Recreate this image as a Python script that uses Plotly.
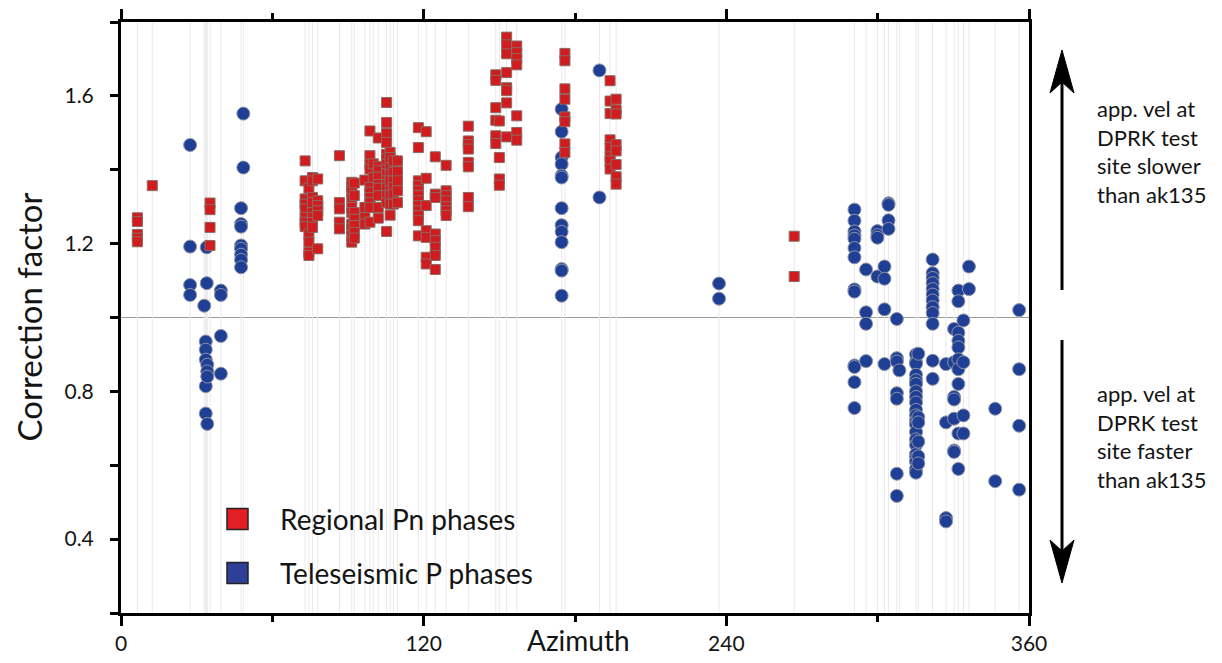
import plotly.graph_objects as go

# ---------------- data ----------------
# Regional Pn phases: azimuth -> correction factors
pn_az = [6.5, 12.4, 35.3, 73.0, 74.5, 75.9, 78.0, 86.6, 91.5, 92.5, 96.7, 98.7, 100.0,
         102.0, 105.3, 106.7, 108.0, 109.6, 117.9, 121.0, 124.6, 128.9, 137.7, 148.6,
         150.0, 152.9, 156.9, 176.0, 193.9, 196.3, 266.9]
pn_vals = [
    [1.27, 1.26, 1.225, 1.215, 1.205],
    [1.357],
    [1.31, 1.292, 1.244, 1.195],
    [1.424, 1.370, 1.321, 1.307, 1.294, 1.271, 1.258, 1.246],
    [1.350, 1.226, 1.204, 1.177, 1.168],
    [1.379, 1.370, 1.325, 1.311, 1.284, 1.271, 1.257, 1.244],
    [1.375, 1.316, 1.303, 1.289, 1.276, 1.186],
    [1.438, 1.311, 1.294, 1.258, 1.240],
    [1.366, 1.356, 1.343, 1.321, 1.298, 1.284, 1.253, 1.240, 1.222, 1.204],
    [1.364, 1.330, 1.284, 1.266, 1.249, 1.230, 1.215],
    [1.372, 1.298, 1.271, 1.253],
    [1.505, 1.438, 1.415, 1.402, 1.352, 1.339, 1.325, 1.311, 1.298, 1.258],
    [1.416, 1.379],
    [1.486, 1.409, 1.397, 1.38, 1.36, 1.35, 1.33, 1.298, 1.269],
    [1.582, 1.528, 1.498, 1.474, 1.442, 1.43, 1.415, 1.40, 1.39, 1.37, 1.36, 1.35, 1.33, 1.311, 1.233],
    [1.447, 1.433, 1.406, 1.388, 1.37, 1.343, 1.33, 1.307, 1.277],
    [1.424, 1.393, 1.37, 1.352, 1.334, 1.307],
    [1.424, 1.395, 1.37, 1.343, 1.311],
    [1.514, 1.46, 1.37, 1.357, 1.343, 1.33, 1.316, 1.303, 1.289, 1.276, 1.262, 1.221],
    [1.503, 1.377, 1.303, 1.235, 1.217, 1.163, 1.145],
    [1.435, 1.334, 1.325, 1.226, 1.208, 1.19, 1.168, 1.13],
    [1.412, 1.343, 1.33, 1.316, 1.30, 1.289, 1.276],
    [1.518, 1.478, 1.468, 1.456, 1.42, 1.408, 1.325, 1.30],
    [1.657, 1.642, 1.568, 1.534, 1.492, 1.471],
    [1.532, 1.433, 1.375, 1.358],
    [1.759, 1.738, 1.714, 1.663, 1.622, 1.614, 1.581, 1.489],
    [1.735, 1.717, 1.701, 1.684, 1.546, 1.501, 1.48],
    [1.715, 1.695, 1.619, 1.591, 1.543, 1.530, 1.47, 1.447],
    [1.641, 1.586, 1.552, 1.481, 1.46, 1.435, 1.424, 1.402],
    [1.591, 1.562, 1.551, 1.468, 1.451, 1.414, 1.381, 1.361],
    [1.22, 1.111],
]

# Teleseismic P phases: azimuth -> correction factors
tp_az = [27.4, 33.0, 33.6, 34.0, 34.2, 39.6, 47.6, 48.5, 174.7, 189.7, 237.1, 290.8,
         295.4, 299.9, 302.7, 304.3, 307.6, 308.6, 315.2, 316.1, 321.8, 327.1, 330.3,
         332.0, 334.0, 336.2, 346.6, 356.1]
tp_vals = [
    [1.467, 1.192, 1.088, 1.061],
    [1.032],
    [0.935, 0.913, 0.886, 0.814, 0.74],
    [1.19, 1.093],
    [0.872, 0.854, 0.840, 0.712],
    [1.073, 1.061, 0.95, 0.848],
    [1.296, 1.253, 1.246, 1.195, 1.186, 1.170, 1.156, 1.136],
    [1.552, 1.406],
    [1.564, 1.503, 1.433, 1.415, 1.384, 1.379, 1.296, 1.25, 1.232, 1.204, 1.131, 1.127, 1.059],
    [1.669, 1.325],
    [1.092, 1.051],
    [1.292, 1.262, 1.233, 1.222, 1.213, 1.188, 1.163, 1.076, 1.070, 0.87, 0.866, 0.825, 0.755],
    [1.13, 1.014, 0.983, 0.882],
    [1.234, 1.223, 1.216, 1.111],
    [1.138, 1.105, 1.022, 0.874],
    [1.309, 1.305, 1.263, 1.24],
    [0.996, 0.89, 0.881, 0.795, 0.78, 0.577, 0.517],
    [0.857],
    [0.90, 0.88, 0.875, 0.845, 0.83, 0.82, 0.80, 0.785, 0.77, 0.75, 0.735, 0.72, 0.71,
     0.69, 0.67, 0.655, 0.63, 0.62, 0.61, 0.59, 0.58],
    [0.902, 0.73, 0.716, 0.664, 0.624, 0.605],
    [1.157, 1.12, 1.107, 1.093, 1.077, 1.062, 1.046, 1.028, 1.012, 0.983, 0.883, 0.834],
    [0.874, 0.716, 0.457, 0.448],
    [0.969, 0.879, 0.785, 0.778, 0.726, 0.64, 0.636],
    [1.073, 1.044, 0.959, 0.937, 0.919, 0.887, 0.86, 0.82, 0.686, 0.59],
    [0.992, 0.879, 0.735, 0.686],
    [1.138, 1.077],
    [0.753, 0.557],
    [1.02, 0.86, 0.707, 0.534],
]

x_tickvals = [0, 120, 240, 360]
y_tickvals = [0.2, 0.4, 0.6, 0.8, 1.0, 1.2, 1.4, 1.6, 1.8]
y_ticktext = ["", "0.4", "", "0.8", "", "1.2", "", "1.6", ""]
legend_labels = ["Regional Pn phases", "Teleseismic P phases"]
right_text_up = ["app. vel at", "DPRK test", "site slower", "than ak135"]
right_text_down = ["app. vel at", "DPRK test", "site faster", "than ak135"]
reference_level = 1.0
y_range = [0.2, 1.8]
x_range = [0, 360]

# ---------------- build ----------------
def flatten(az, vals):
    xs, ys = [], []
    for a, vs in zip(az, vals):
        for v in vs:
            xs.append(a)
            ys.append(v)
    return xs, ys

pn_x, pn_y = flatten(pn_az, pn_vals)
tp_x, tp_y = flatten(tp_az, tp_vals)

FONT = "Lato"
TXT = "#141414"
RED = "#d01c1f"
BLUE = "#1f3f94"

# plot-area geometry (page pixels); page body has an 8px margin
OFF = 8
PL, PR, PT, PB = 121, 1029, 22, 613
W, H = 1222 - OFF, 663 - OFF


def px(xp):
    return (xp - PL) / (PR - PL)


def py(yp):
    return (PB - yp) / (PB - PT)


fig = go.Figure()

# station azimuth guide lines
gx, gy = [], []
for a in sorted(set(pn_az + tp_az)):
    gx += [a, a, None]
    gy += [y_range[0], y_range[1], None]
fig.add_trace(go.Scatter(x=gx, y=gy, mode="lines", line=dict(color="#e9e9e9", width=1),
                         hoverinfo="skip", showlegend=False))

fig.add_hline(y=reference_level, line=dict(color="#9a9a9a", width=1), layer="below")

fig.add_trace(go.Scatter(x=tp_x, y=tp_y, mode="markers", name=legend_labels[1],
                         marker=dict(symbol="circle", size=13, color=BLUE,
                                     line=dict(color="#8f93a8", width=1)),
                         showlegend=False))
fig.add_trace(go.Scatter(x=pn_x, y=pn_y, mode="markers", name=legend_labels[0],
                         marker=dict(symbol="square", size=10, color=RED,
                                     line=dict(color="#8a6a62", width=1)),
                         showlegend=False))

fig.update_layout(
    width=W, height=H,
    margin=dict(l=PL - OFF, r=W - (PR - OFF), t=PT - OFF, b=H - (PB - OFF)),
    paper_bgcolor="white", plot_bgcolor="white",
    font=dict(family=FONT, color=TXT),
    showlegend=False,
)

fig.update_xaxes(range=x_range, tickvals=x_tickvals, ticks="outside", ticklen=10, tickwidth=2.5,
                 tickcolor="black", showline=True, linewidth=3, linecolor="black",
                 mirror="allticks", showgrid=False, zeroline=False, automargin=False,
                 tickfont=dict(size=21, family=FONT, color=TXT),
                 minor=dict(dtick=60, tick0=0, ticks="outside", ticklen=6, tickwidth=2.5,
                            tickcolor="black", showgrid=False))
fig.update_yaxes(range=y_range, tickvals=y_tickvals, ticktext=y_ticktext, ticks="outside",
                 ticklen=8, tickwidth=2.5, tickcolor="black", showline=True, linewidth=3,
                 linecolor="black", mirror=True, showgrid=False, zeroline=False,
                 automargin=False, ticklabelstandoff=12,
                 tickfont=dict(size=21, family=FONT, color=TXT))

# axis titles
fig.add_annotation(text="Correction factor", xref="paper", yref="paper", x=px(28), y=0.5,
                   textangle=-90, showarrow=False, xanchor="center", yanchor="middle",
                   font=dict(size=33, family=FONT, color=TXT))
fig.add_annotation(text="Azimuth", xref="paper", yref="paper", x=px(578), y=py(640),
                   showarrow=False, xanchor="center", yanchor="middle",
                   font=dict(size=28, family=FONT, color=TXT))

# legend (drawn)
leg_items = [("#e31e24", 519), ("#2e3f98", 573)]
for (col, yc), lab in zip(leg_items, legend_labels):
    fig.add_shape(type="rect", xref="paper", yref="paper", x0=px(227), x1=px(248),
                  y0=py(yc + 10.5), y1=py(yc - 10.5), fillcolor=col,
                  line=dict(color="#222222", width=1.5))
    fig.add_annotation(text=lab, xref="paper", yref="paper", x=px(278), y=py(yc),
                       showarrow=False, xanchor="left", yanchor="middle",
                       font=dict(size=28, family=FONT, color=TXT))

# right-hand arrows
AX = 1062


def arrow(tip, base, notch, tail):
    fig.add_shape(type="line", xref="paper", yref="paper", x0=px(AX), x1=px(AX),
                  y0=py(notch), y1=py(tail), line=dict(color="black", width=3))
    path = (f"M {px(AX)} {py(tip)} L {px(AX - 12)} {py(base)} "
            f"L {px(AX)} {py(notch)} L {px(AX + 12)} {py(base)} Z")
    fig.add_shape(type="path", xref="paper", yref="paper", path=path,
                  fillcolor="black", line=dict(color="black", width=1))


arrow(50, 93, 82, 290)
arrow(583, 540, 551, 340)

fig.add_annotation(text="<br>".join(right_text_up), xref="paper", yref="paper",
                   x=px(1095), y=py(152), showarrow=False, xanchor="left",
                   yanchor="middle", align="left",
                   font=dict(size=22, family=FONT, color=TXT))
fig.add_annotation(text="<br>".join(right_text_down), xref="paper", yref="paper",
                   x=px(1095), y=py(436), showarrow=False, xanchor="left",
                   yanchor="middle", align="left",
                   font=dict(size=22, family=FONT, color=TXT))

fig.write_html("out.html")
